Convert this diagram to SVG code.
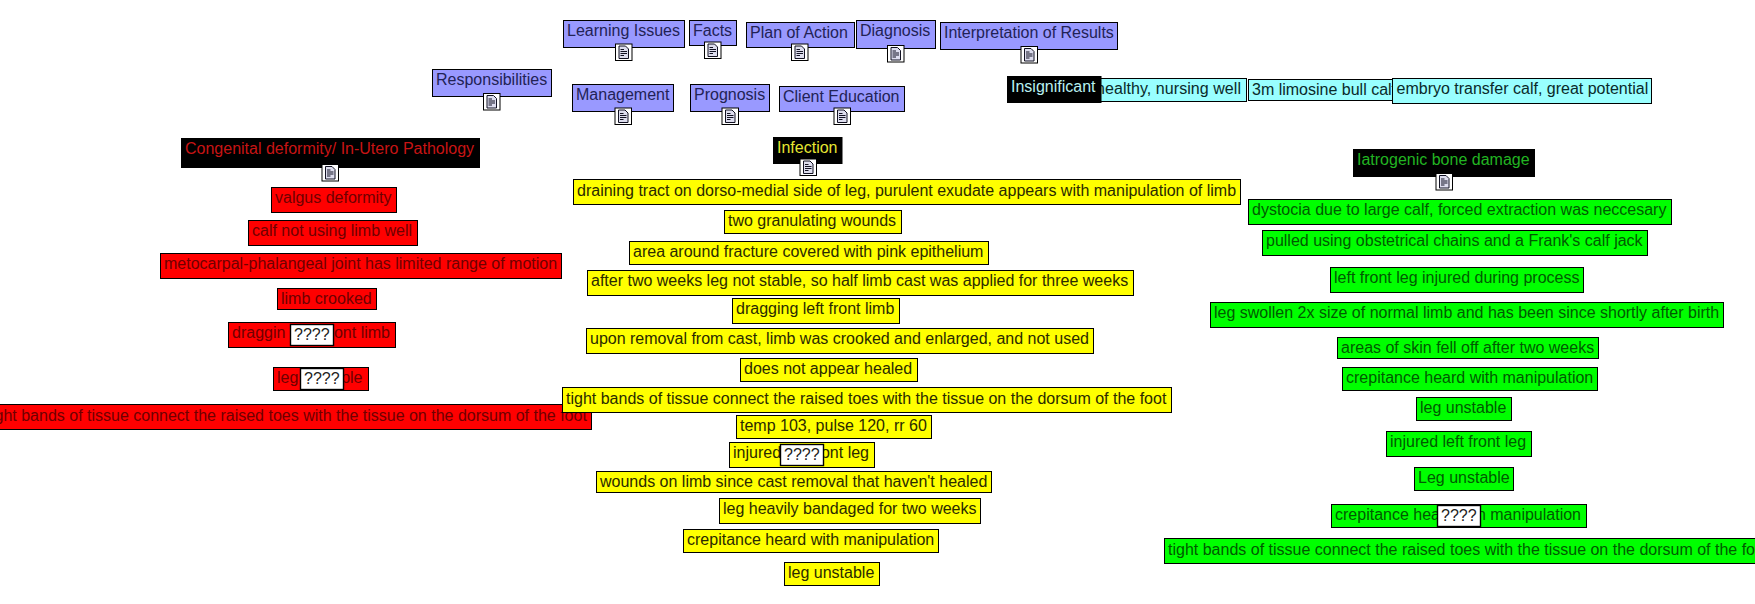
<svg xmlns="http://www.w3.org/2000/svg" width="1755" height="604" viewBox="0 0 1755 604">
<style>
text{font-family:"Liberation Sans",Arial,sans-serif;font-size:16px;fill:#000}
rect{stroke:#000;stroke-width:1}
.p rect{fill:#9999ff}.c rect{fill:#99ffff}.r rect{fill:#f00}.y rect{fill:#ff0}.g rect{fill:#0f0}
.b rect{fill:#000}
.p text{fill:#222255}.c text{fill:#0a2a2a}.r text{fill:#6e0000}.y text{fill:#2a2a00}.g text{fill:#005a00}
.e{text-anchor:end}
g rect.q{fill:#fff;stroke-width:1.4}
g text.t{fill:#222}
</style>
<defs>
<g id="doc">
<rect x="0.5" y="0.5" width="16.5" height="16.5" fill="#fff" stroke="#224" stroke-width="1"/>
<path d="M4 2.5H10.5L13.5 5.5V15H4Z" fill="#dde" stroke="#112" stroke-width="1"/>
<path d="M5.5 6H9M5.5 8H12M5.5 10H12M5.5 12H9" stroke="#112" stroke-width="1" fill="none"/>
</g>
</defs>
<g id="connectors"></g>
<g id="n-responsibilities" class="p"><rect x="432.5" y="69.5" width="119" height="27"/><text x="436" y="85">Responsibilities</text><use href="#doc" x="483" y="93"/></g>
<g id="n-learning" class="p"><rect x="563.5" y="20.5" width="121" height="27"/><text x="567" y="36">Learning Issues</text><use href="#doc" x="615" y="43.500"/></g>
<g id="n-facts" class="p"><rect x="689.5" y="20.5" width="47" height="25"/><text x="693" y="36">Facts</text><use href="#doc" x="704" y="41.500"/></g>
<g id="n-plan" class="p"><rect x="746.5" y="22.5" width="108" height="25"/><text x="750" y="38">Plan of Action</text><use href="#doc" x="791" y="43.500"/></g>
<g id="n-diagnosis" class="p"><rect x="856.5" y="20.5" width="79" height="28"/><text x="860" y="36">Diagnosis</text><use href="#doc" x="887" y="45"/></g>
<g id="n-interpretation" class="p"><rect x="940.5" y="22.5" width="177" height="27"/><text x="944" y="38">Interpretation of Results</text><use href="#doc" x="1020.500" y="46"/></g>
<g id="n-management" class="p"><rect x="572.5" y="84.5" width="101" height="27"/><text x="576" y="100">Management</text><use href="#doc" x="614.500" y="107.500"/></g>
<g id="n-prognosis" class="p"><rect x="690.5" y="84.5" width="79" height="27"/><text x="694" y="100">Prognosis</text><use href="#doc" x="721.500" y="107.500"/></g>
<g id="n-client" class="p"><rect x="779.500" y="86.5" width="125" height="25"/><text x="783" y="102">Client Education</text><use href="#doc" x="833.500" y="107.500"/></g>

<g id="n-healthy" class="c"><rect x="1090.5" y="78.5" width="156" height="23"/><text x="1096" y="94" textLength="145">healthy, nursing well</text></g>
<g id="n-3m" class="c"><rect x="1248.5" y="79.5" width="150" height="21"/><text x="1252" y="95">3m limosine bull calf</text></g>
<g id="n-embryo" class="c"><rect x="1392.5" y="78.5" width="259" height="25"/><text x="1396.500" y="94">embryo transfer calf, great potential</text></g>
<g id="n-insignificant" class="b"><rect x="1007.5" y="76.5" width="93.500" height="26"/><text x="1011" y="92" style="fill:#b8f0f0">Insignificant</text></g>

<g id="n-congenital" class="b"><rect x="181.5" y="138.5" width="298" height="29"/><text x="185" y="154" style="fill:#c81414">Congenital deformity/ In-Utero Pathology</text><use href="#doc" x="321.500" y="164"/></g>
<g id="n-infection" class="b"><rect x="773.5" y="137.5" width="68.500" height="26"/><text x="777" y="153" style="fill:#e6e632">Infection</text><use href="#doc" x="799.500" y="158.500"/></g>
<g id="n-iatrogenic" class="b"><rect x="1353.5" y="149.5" width="181" height="27"/><text x="1357" y="165" style="fill:#22b422">Iatrogenic bone damage</text><use href="#doc" x="1435.500" y="173"/></g>

<g id="n-r1" class="r"><rect x="271.5" y="187.5" width="125" height="25"/><text x="275" y="203">valgus deformity</text></g>
<g id="n-r2" class="r"><rect x="248.5" y="220.5" width="169" height="25"/><text x="252" y="236">calf not using limb well</text></g>
<g id="n-r3" class="r"><rect x="160.5" y="253.5" width="401" height="25"/><text x="164" y="269">metocarpal-phalangeal joint has limited range of motion</text></g>
<g id="n-r4" class="r"><rect x="277.5" y="288.5" width="99" height="21"/><text x="281" y="304">limb crooked</text></g>
<g id="n-r5" class="r"><rect x="228.5" y="322.5" width="167" height="25"/><text x="232" y="338">draggin</text><text class="e" x="390" y="338">ont limb</text><rect class="q" x="290.5" y="324.5" width="43" height="21"/><text class="t" x="294" y="340">????</text></g>
<g id="n-r6" class="r"><rect x="273.5" y="367.5" width="95" height="23"/><text x="277" y="383">leg</text><text class="e" x="362.500" y="383">ple</text><rect class="q" x="300.5" y="368.500" width="43" height="21"/><text class="t" x="304" y="384">????</text></g>
<g id="n-r7" class="r"><rect x="-17.500" y="404.5" width="609" height="25"/><text x="-13.500" y="420.500">tight bands of tissue connect the raised toes with the tissue on the dorsum of the foot</text></g>

<g id="n-y1" class="y"><rect x="573.5" y="179.5" width="667" height="25"/><text x="577" y="195.500">draining tract on dorso-medial side of leg, purulent exudate appears with manipulation of limb</text></g>
<g id="n-y2" class="y"><rect x="724.5" y="210.5" width="177" height="23"/><text x="728" y="226">two granulating wounds</text></g>
<g id="n-y3" class="y"><rect x="629.5" y="241.5" width="359" height="23"/><text x="633" y="257">area around fracture covered with pink epithelium</text></g>
<g id="n-y4" class="y"><rect x="587.5" y="270.5" width="546" height="25"/><text x="591" y="286">after two weeks leg not stable, so half limb cast was applied for three weeks</text></g>
<g id="n-y5" class="y"><rect x="732.5" y="298.5" width="167" height="25"/><text x="736" y="314">dragging left front limb</text></g>
<g id="n-y6" class="y"><rect x="586.5" y="328.5" width="507" height="25"/><text x="590" y="344">upon removal from cast, limb was crooked and enlarged, and not used</text></g>
<g id="n-y7" class="y"><rect x="740.5" y="358.5" width="177" height="23"/><text x="744" y="374">does not appear healed</text></g>
<g id="n-y8" class="y"><rect x="562.5" y="387.5" width="609" height="25"/><text x="566" y="403.500">tight bands of tissue connect the raised toes with the tissue on the dorsum of the foot</text></g>
<g id="n-y9" class="y"><rect x="736.5" y="415.5" width="195" height="23"/><text x="740" y="431">temp 103, pulse 120, rr 60</text></g>
<g id="n-y10" class="y"><rect x="729.5" y="442.5" width="145" height="25"/><text x="733" y="458">injured</text><text class="e" x="869" y="458">ont leg</text><rect class="q" x="780.5" y="444.5" width="43" height="21"/><text class="t" x="784" y="460">????</text></g>
<g id="n-y11" class="y"><rect x="596.5" y="471.5" width="395" height="21"/><text x="600" y="487">wounds on limb since cast removal that haven't healed</text></g>
<g id="n-y12" class="y"><rect x="719.5" y="498.5" width="261" height="25"/><text x="723" y="514">leg heavily bandaged for two weeks</text></g>
<g id="n-y13" class="y"><rect x="683.5" y="529.5" width="255" height="23"/><text x="687" y="545">crepitance heard with manipulation</text></g>
<g id="n-y14" class="y"><rect x="784.5" y="562.5" width="95" height="23"/><text x="788" y="578">leg unstable</text></g>

<g id="n-g1" class="g"><rect x="1248.5" y="199.5" width="423" height="25"/><text x="1252" y="215">dystocia due to large calf, forced extraction was neccesary</text></g>
<g id="n-g2" class="g"><rect x="1262.5" y="230.5" width="385" height="25"/><text x="1266" y="246">pulled using obstetrical chains and a Frank's calf jack</text></g>
<g id="n-g3" class="g"><rect x="1330.5" y="267.5" width="253" height="25"/><text x="1334" y="283">left front leg injured during process</text></g>
<g id="n-g4" class="g"><rect x="1210.5" y="302.5" width="513" height="25"/><text x="1214" y="318">leg swollen 2x size of normal limb and has been since shortly after birth</text></g>
<g id="n-g5" class="g"><rect x="1337.5" y="337.5" width="261" height="21"/><text x="1341" y="353">areas of skin fell off after two weeks</text></g>
<g id="n-g6" class="g"><rect x="1342.5" y="367.5" width="255" height="23"/><text x="1346" y="383">crepitance heard with manipulation</text></g>
<g id="n-g7" class="g"><rect x="1416.5" y="397.5" width="95" height="23"/><text x="1420" y="413">leg unstable</text></g>
<g id="n-g8" class="g"><rect x="1386.5" y="431.5" width="145" height="25"/><text x="1390" y="447">injured left front leg</text></g>
<g id="n-g9" class="g"><rect x="1414.5" y="467.5" width="99" height="23"/><text x="1418" y="483">Leg unstable</text></g>
<g id="n-g10" class="g"><rect x="1331.5" y="504.5" width="255" height="23"/><text x="1335" y="520">crepitance hea</text><text class="e" x="1581" y="520">n manipulation</text><rect class="q" x="1437.5" y="505.500" width="43" height="21"/><text class="t" x="1441" y="521">????</text></g>
<g id="n-g11" class="g"><rect x="1164.5" y="538.5" width="609" height="25"/><text x="1168" y="554.500">tight bands of tissue connect the raised toes with the tissue on the dorsum of the foot</text></g>
</svg>
